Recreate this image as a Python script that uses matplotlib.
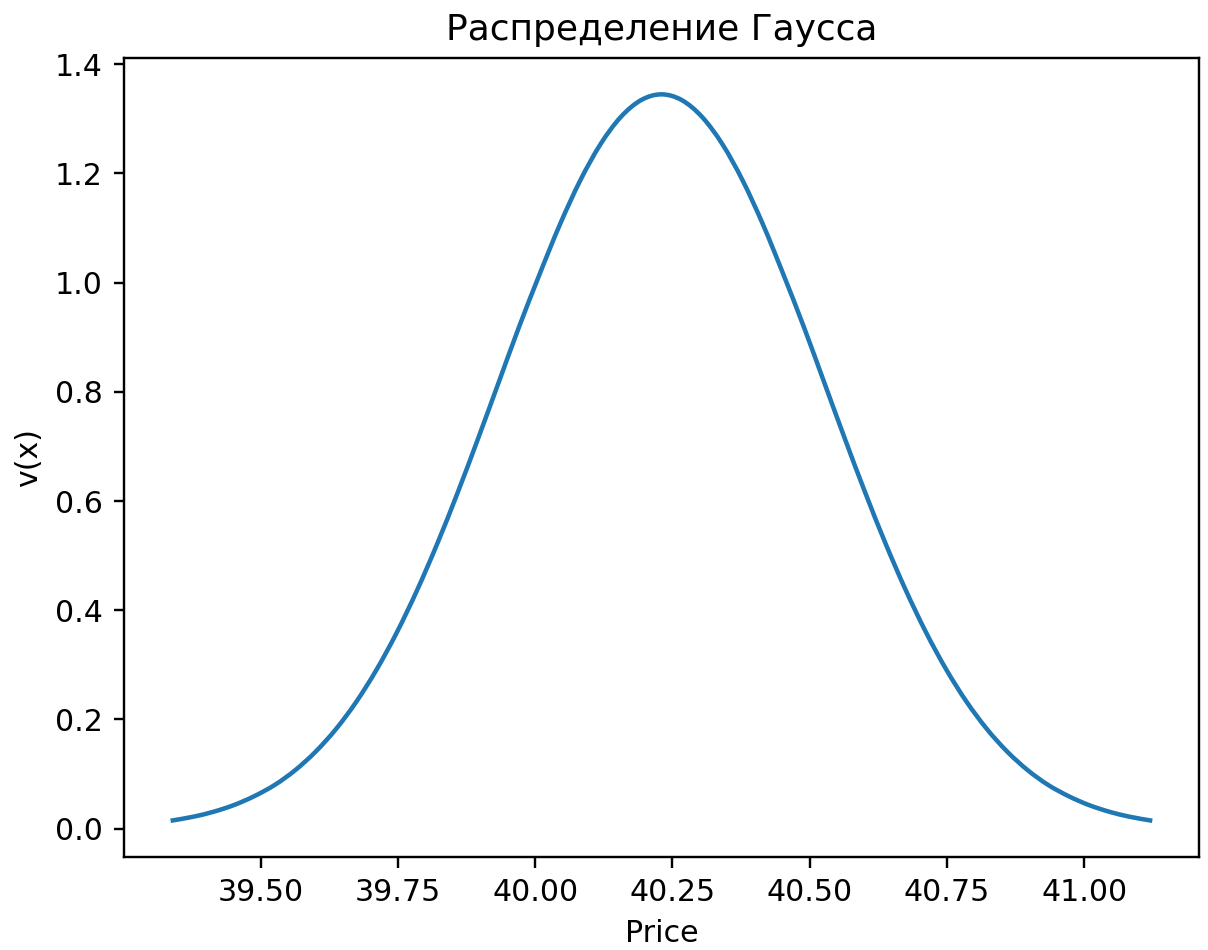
import matplotlib
matplotlib.use('Agg')
import matplotlib.pyplot as plt
from matplotlib.path import Path
from matplotlib.patches import PathPatch

# Точки кривой плотности (цена -> v(x))
price = [39.340, 39.377, 39.414, 39.451, 39.488, 39.526, 39.563, 39.600,
         39.637, 39.674, 39.711, 39.748, 39.785, 39.822, 39.859, 39.896,
         39.933, 39.970, 40.008, 40.045, 40.082, 40.119, 40.156, 40.193,
         40.230,
         40.267, 40.304, 40.341, 40.378, 40.415, 40.452, 40.490, 40.527,
         40.564, 40.601, 40.638, 40.675, 40.712, 40.749, 40.786, 40.823,
         40.860, 40.897, 40.934, 40.972, 41.009, 41.046, 41.083, 41.120]

density = [0.0149, 0.0216, 0.0307, 0.0429, 0.0591, 0.0801, 0.1070, 0.1407,
           0.1820, 0.2319, 0.2909, 0.3592, 0.4367, 0.5226, 0.6158, 0.7143,
           0.8158, 0.9172, 1.0153, 1.1064, 1.1870, 1.2537, 1.3036, 1.3345,
           1.3450,
           1.3345, 1.3036, 1.2537, 1.1870, 1.1064, 1.0153, 0.9172, 0.8158,
           0.7143, 0.6158, 0.5226, 0.4367, 0.3592, 0.2909, 0.2319, 0.1820,
           0.1407, 0.1070, 0.0801, 0.0591, 0.0429, 0.0307, 0.0216, 0.0149]


# Гладкая кривая через точки (Catmull-Rom -> кубические Безье)
def smooth_path(xs, ys):
    pts = list(zip(xs, ys))
    n = len(pts)
    verts = [pts[0]]
    codes = [Path.MOVETO]
    for i in range(n - 1):
        p0 = pts[max(i - 1, 0)]
        p1 = pts[i]
        p2 = pts[i + 1]
        p3 = pts[min(i + 2, n - 1)]
        c1 = (p1[0] + (p2[0] - p0[0]) / 6, p1[1] + (p2[1] - p0[1]) / 6)
        c2 = (p2[0] - (p3[0] - p1[0]) / 6, p2[1] - (p3[1] - p1[1]) / 6)
        verts += [c1, c2, p2]
        codes += [Path.CURVE4] * 3
    return Path(verts, codes)


fig = plt.figure(figsize=(1208 / 216, 950 / 216), dpi=216)
plt.subplots_adjust(left=0.1026, right=0.9925, top=0.9389, bottom=0.0982)
ax = plt.gca()

ax.add_patch(PathPatch(smooth_path(price, density), fill=False,
                       edgecolor='C0', linewidth=1.5, capstyle='projecting',
                       joinstyle='round'))
ax.autoscale_view()

plt.title('Распределение Гаусса')
plt.xlabel('Price')
plt.ylabel('v(x)')

fig.savefig('out.png', dpi=216)
